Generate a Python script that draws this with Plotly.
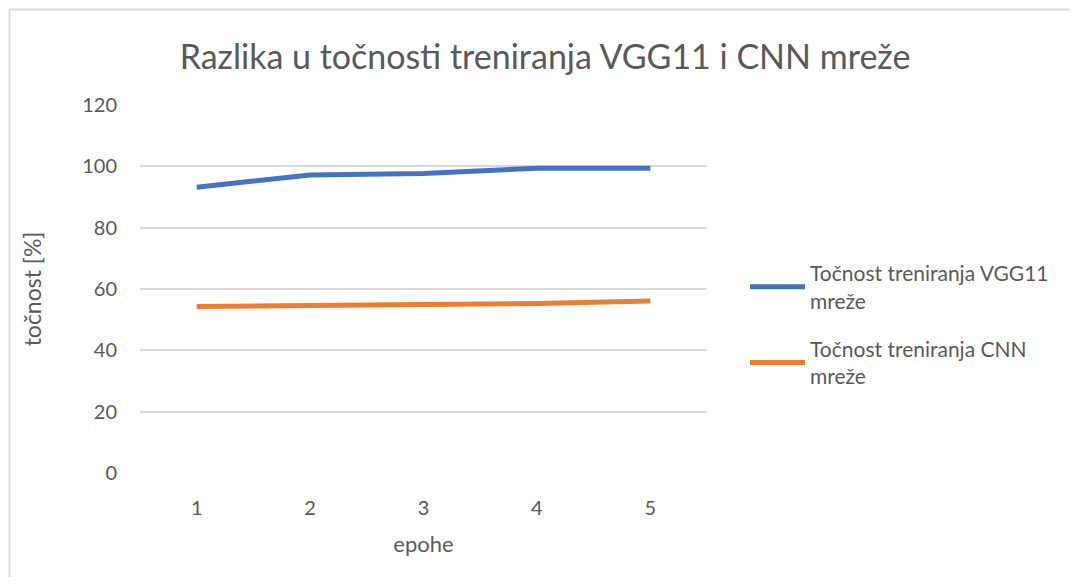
import plotly.graph_objects as go

epochs = ["1", "2", "3", "4", "5"]
vgg11_acc = [93.2, 97.2, 97.7, 99.4, 99.4]
cnn_acc = [54.3, 54.6, 55.0, 55.3, 56.1]
series_names = ["Točnost treniranja VGG11<br>mreže", "Točnost treniranja CNN<br>mreže"]
title_text = "Razlika u točnosti treniranja VGG11 i CNN mreže"
x_title = "epohe"
y_title = "točnost [%]"

OFF = 8  # page body margin
W, H = 1078 - 2 * OFF, 585 - 2 * OFF
L, T = 140 - OFF, 105 - OFF
R = OFF + W - 707
B = OFF + H - 473
pw, ph = W - L - R, H - T - B

def px(x):
    return (x - OFF - L) / pw

def py(y):
    return (H - B - (y - OFF)) / ph

fig = go.Figure()
fig.add_trace(go.Scatter(x=epochs, y=vgg11_acc, mode="lines", name=series_names[0],
                         legendgroup="a", line=dict(color="#4472C4", width=5)))
fig.add_trace(go.Scatter(x=epochs, y=cnn_acc, mode="lines", name=series_names[1],
                         legendgroup="b", line=dict(color="#ED7D31", width=5)))

font_fam = "Lato, 'Open Sans', sans-serif"
fig.update_layout(
    width=W, height=H,
    margin=dict(l=L, r=R, t=T, b=B),
    paper_bgcolor="white", plot_bgcolor="white",
    font=dict(family=font_fam, color="#595959", size=20),
    title=dict(text=title_text, x=(545 - OFF) / W, xanchor="center",
               y=1 - (57 - OFF) / H, yanchor="middle",
               font=dict(size=34, color="#595959", family=font_fam)),
    xaxis=dict(type="category", range=[-0.5, 4.5], showgrid=False, zeroline=False,
               showline=False, ticks="", tickfont=dict(size=20), ticklabelstandoff=21,
               title=dict(text=x_title, font=dict(size=22), standoff=18)),
    yaxis=dict(range=[0, 120], dtick=20, showgrid=True, gridcolor="#D9D9D9", gridwidth=1.5,
               zeroline=False, showline=False, ticks="", tickfont=dict(size=20),
               ticklabelstandoff=22,
               title=dict(text=y_title, font=dict(size=23), standoff=34)),
    legend=dict(x=px(745), y=py(253), xanchor="left", yanchor="top",
                font=dict(size=21, color="#595959"), tracegroupgap=18,
                itemwidth=55, bgcolor="rgba(0,0,0,0)"),
    showlegend=True,
)
# chart-area frame: only the top and left edges fall inside the picture
fig.add_shape(type="line", xref="paper", yref="paper",
              x0=px(9.5), x1=px(1100), y0=py(9.5), y1=py(9.5),
              line=dict(color="#D9D9D9", width=2), layer="below")
fig.add_shape(type="line", xref="paper", yref="paper",
              x0=px(9.5), x1=px(9.5), y0=py(9.5), y1=py(610),
              line=dict(color="#D9D9D9", width=2), layer="below")

fig.write_html("out.html")
